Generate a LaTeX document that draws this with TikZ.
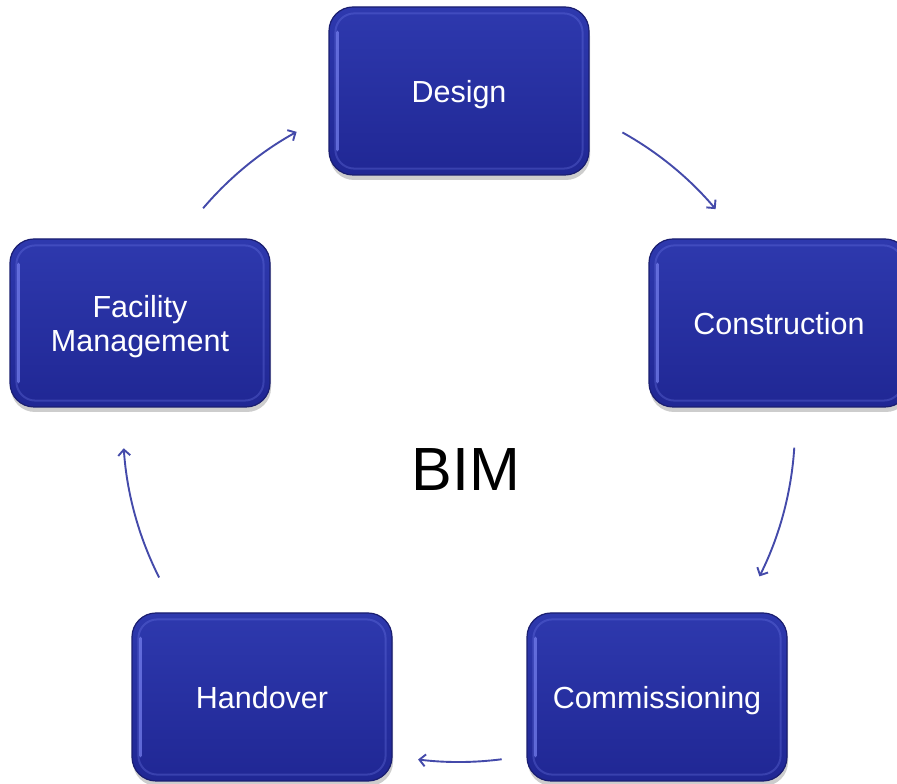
\documentclass[tikz,border=0pt]{standalone}
\usepackage{fontspec}
\setmainfont{Liberation Sans}
\usetikzlibrary{arrows.meta,shadows}
\definecolor{boxtop}{RGB}{46,57,174}
\definecolor{boxbot}{RGB}{32,39,148}
\definecolor{boxedge}{RGB}{26,30,112}
\definecolor{boxglow}{RGB}{120,130,240}
\definecolor{arrcol}{RGB}{68,74,170}
\tikzset{
  phase/.style={rounded corners=24pt, minimum width=260pt, minimum height=168pt,
    top color=boxtop, bottom color=boxbot, draw=boxedge, line width=1.2pt,
    text=white, font=\fontsize{30.5}{34}\selectfont, align=center,
    drop shadow={shadow xshift=1pt, shadow yshift=-5pt, opacity=0.28, fill=black!70},
    inner sep=0pt, text depth=0pt},
  glow/.style={rounded corners=19pt, draw=boxglow, line width=2pt, opacity=0.28},
  lefthi/.style={draw=boxglow, line width=3.5pt, opacity=0.7, line cap=round},
  cyc/.style={draw=arrcol, line width=1.9pt, -{Straight Barb[length=6pt,width=12pt]}},
}
\newcommand{\glowbox}[1]{%
  \draw[glow] ([shift={(7pt,7pt)}]#1.south west) rectangle ([shift={(-7pt,-7pt)}]#1.north east);
  \draw[lefthi] ([shift={(9pt,26pt)}]#1.south west) -- ([shift={(9pt,-26pt)}]#1.north west);}
\begin{document}
\begin{tikzpicture}[x=1pt,y=1pt]
\useasboundingbox (0,0) rectangle (897,784);
\clip (0,0) rectangle (897,784);
\fill[white] (0,0) rectangle (897,784);
\coordinate (C) at (459,358);
\node[phase] (design) at (459,693) {Design};
\node[phase] (constr) at (779,461) {Construction};
\node[phase] (comm) at (657,87) {Commissioning};
\node[phase] (hand) at (262,87) {Handover};
\node[phase] (fm) at (140,461) {Facility\\Management};
\glowbox{design}\glowbox{constr}\glowbox{comm}\glowbox{hand}\glowbox{fm}
\node[font=\fontsize{61}{61}\selectfont] (bim) at (466,314) {BIM};
\coordinate (a1) at ([shift={(60.9:336)}]C);
\coordinate (a2) at ([shift={(-3.7:336)}]C);
\coordinate (a3) at ([shift={(-82.7:336)}]C);
\coordinate (a4) at ([shift={(-153.2:336)}]C);
\coordinate (a5) at ([shift={(139.6:336)}]C);
\draw[cyc] (a1) arc[start angle=60.9, end angle=40.2, radius=336];
\draw[cyc] (a2) arc[start angle=-3.7, end angle=-26.6, radius=336];
\draw[cyc] (a3) arc[start angle=-82.7, end angle=-97.0, radius=336];
\draw[cyc] (a4) arc[start angle=-153.2, end angle=-176.2, radius=336];
\draw[cyc] (a5) arc[start angle=139.6, end angle=118.9, radius=336];
\end{tikzpicture}
\end{document}
